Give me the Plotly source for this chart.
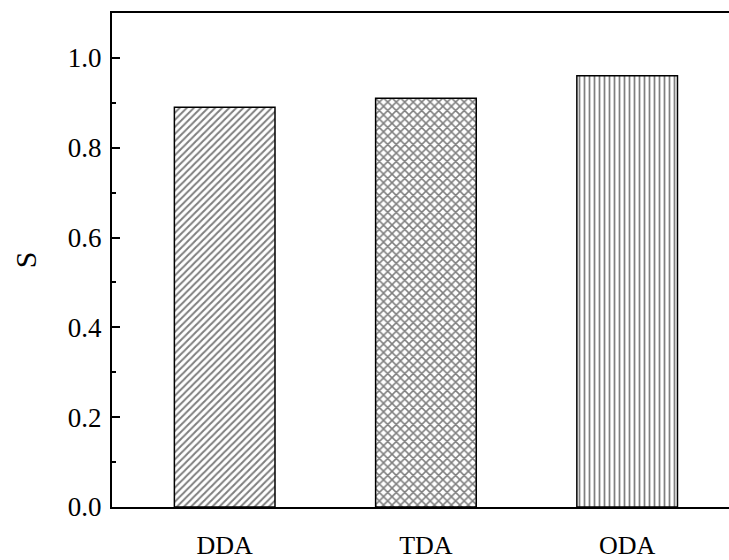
import plotly.graph_objects as go

# Samples and their S values
categories = ["DDA", "TDA", "ODA"]
s_values = [0.89, 0.91, 0.96]
hatches = ["/", "x", "|"]
hatch_sizes = [5, 6, 5]
hatch_solidity = [0.4, 0.45, 0.35]

y_ticks = [0.0, 0.2, 0.4, 0.6, 0.8, 1.0]
y_tick_text = ["0.0", "0.2", "0.4", "0.6", "0.8", "1.0"]

FONT = "Liberation Serif"

fig = go.Figure()
fig.add_trace(go.Bar(
    x=categories,
    y=s_values,
    width=0.5,
    marker=dict(
        color="white",
        line=dict(color="black", width=1.5),
        pattern=dict(shape=hatches, size=hatch_sizes, solidity=hatch_solidity,
                     fgcolor="black", bgcolor="white", fillmode="overlay"),
    ),
    showlegend=False,
))

fig.update_layout(
    width=729,
    height=560,
    margin=dict(l=112, r=0, t=13, b=47),
    paper_bgcolor="white",
    plot_bgcolor="white",
    font=dict(family=FONT, size=26, color="black"),
    xaxis=dict(
        type="category",
        range=[-0.56, 2.506],
        showline=True, linecolor="black", linewidth=2,
        mirror=True,
        ticks="",
        showgrid=False,
        tickfont=dict(family=FONT, size=26, color="black"),
        ticklabelstandoff=14,
    ),
    yaxis=dict(
        range=[0, 1.1],
        tickvals=y_ticks,
        ticktext=y_tick_text,
        showline=True, linecolor="black", linewidth=2,
        ticks="inside", ticklen=8, tickwidth=2, tickcolor="black",
        minor=dict(dtick=0.1, ticks="inside", ticklen=4, tickwidth=1.5,
                   tickcolor="black", showgrid=False),
        showgrid=False,
        zeroline=False,
        tickfont=dict(family=FONT, size=27, color="black"),
        ticklabelstandoff=3,
        title=dict(text="S", font=dict(family=FONT, size=30, color="black"), standoff=22),
    ),
)

fig.write_html("out.html")
